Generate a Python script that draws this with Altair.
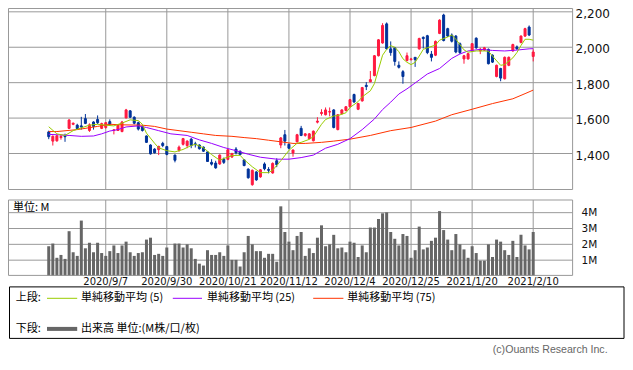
import altair as alt
import pandas as pd

# ---------------- data ----------------
idx = [i for i in range(120) if i != 30]  # 10/1 trading halt -> no candle
opens = [1522,1470,1472,1490,1500,1542,1565,1560,1556,1597,1530,1578,1592,1542,1547,1580,1530,1530,1524,1601,
         1641,1605,1574,1553,1499,1448,1425,1422,1457,1439,
         1391,1418,1452,1445,1481,1455,1448,1436,1409,1350,1346,1341,1367,1367,1380,1425,1412,1364,1312,1224,
         1296,1268,1341,1310,1290,1359,1448,1506,1452,1403,1466,1542,1502,1484,1472,1577,1626,1619,1634,1646,
         1535,1625,1643,1664,1733,1650,1697,1785,1805,1840,1952,2024,2132,1991,1997,1898,1862,1925,1930,1943,
         1991,2056,2065,1961,1955,2078,2182,2105,2069,2063,2020,1934,1934,1979,2051,1979,1984,1988,1955,1835,
         1880,1822,1898,1979,2002,2027,2063,2114,1948]
highs = [1529,1502,1506,1505,1512,1595,1575,1568,1607,1623,1570,1582,1615,1574,1578,1593,1538,1565,1584,1652,
         1645,1610,1580,1560,1502,1452,1430,1444,1466,1443,
         1394,1445,1488,1475,1488,1466,1452,1440,1412,1368,1359,1395,1377,1425,1404,1436,1418,1368,1316,1310,
         1300,1312,1350,1323,1350,1373,1493,1533,1457,1422,1511,1556,1515,1515,1530,1605,1650,1660,1660,1650,
         1622,1650,1668,1708,1738,1686,1776,1803,1866,1956,2046,2136,2140,2033,2002,1920,1871,1970,1940,1943,
         2054,2061,2070,1979,2038,2158,2189,2110,2078,2069,2027,1957,1968,2024,2056,1997,2002,1993,1960,1902,
         1884,1948,1948,2020,2010,2067,2110,2123,1988]
lows = [1481,1445,1466,1478,1466,1538,1560,1536,1535,1566,1522,1535,1566,1538,1540,1560,1508,1527,1520,1598,
        1600,1565,1530,1524,1460,1394,1400,1391,1436,1390,
        1350,1409,1445,1430,1430,1434,1422,1409,1352,1332,1314,1336,1341,1362,1376,1395,1390,1328,1258,1218,
        1246,1263,1305,1288,1286,1323,1430,1445,1425,1382,1462,1498,1495,1480,1468,1570,1614,1615,1610,1542,
        1531,1620,1638,1660,1686,1645,1693,1758,1802,1836,1948,2020,1987,1952,1896,1880,1794,1920,1925,1889,
        1986,1993,1961,1920,1950,2074,2033,2058,2027,1966,1961,1907,1930,1975,1991,1961,1979,1903,1911,1830,
        1808,1818,1893,1975,1986,2022,2058,2063,1920]
closes = [1495,1497,1500,1496,1495,1589,1571,1541,1550,1570,1562,1553,1574,1569,1574,1566,1534,1560,1578,1646,
          1605,1571,1538,1530,1463,1398,1404,1440,1445,1395,
          1362,1436,1484,1470,1445,1450,1427,1413,1355,1340,1319,1391,1350,1421,1400,1404,1394,1332,1263,1305,
          1251,1308,1314,1305,1344,1337,1488,1470,1430,1420,1506,1502,1511,1511,1526,1583,1632,1646,1637,1547,
          1619,1646,1664,1704,1691,1682,1772,1778,1817,1952,2042,2123,1991,1970,1920,1887,1835,1952,1934,1930,
          2049,2049,1970,1943,2033,2153,2038,2063,2034,1973,1970,1952,1964,2020,1997,1988,1997,1907,1916,1898,
          1826,1943,1943,2015,1991,2063,2105,2069,1973]
volumes = [1.88,2.05,1.15,1.33,1.08,2.83,1.50,1.27,3.50,1.75,2.10,1.50,2.10,1.45,1.27,1.57,1.93,1.45,1.93,2.17,
           1.50,1.27,1.45,1.50,2.30,2.42,1.33,1.40,1.27,1.80,
           2.05,2.05,1.80,2.00,1.75,1.08,0.78,0.66,1.63,1.33,1.33,1.50,1.27,1.93,1.02,1.02,0.60,1.50,2.53,2.00,
           1.57,1.57,1.15,1.40,1.40,0.90,4.40,2.78,2.17,1.63,2.53,2.78,1.27,1.75,1.45,2.42,3.20,1.88,2.00,2.60,
           1.75,1.80,1.50,2.17,2.10,1.20,1.93,1.50,3.06,3.06,3.60,3.96,4.02,2.78,2.35,1.93,2.65,2.53,1.15,1.63,
           3.12,1.68,1.80,2.22,2.42,4.10,2.90,2.30,1.63,2.65,2.00,1.68,1.15,1.88,1.45,0.97,0.97,2.00,1.20,2.30,
           2.17,1.63,1.33,2.22,1.20,2.60,1.93,1.68,2.78]

ma5_idx = [0,2,4,6,8,10,12,14,16,18,20,22,23,24,26,27,29,31,33,35,36,38,40,42,43,45,47,48,50,52,54,55,57,59,61,62,
           64,65,67,68,70,71,73,74,76,77,79,80,81,82,83,84,85,86,87,88,89,90,91,92,93,95,96,98,99,100,102,103,105,
           107,108,109,111,112,114,115,116,117,118,119]
ma5_val = [1551,1511,1502,1529,1545,1560,1565,1560,1556,1572,1590,1586,1565,1515,1458,1432,1416,1409,1423,1445,1452,
           1432,1394,1362,1372,1388,1390,1365,1325,1292,1292,1306,1359,1418,1458,1463,1480,1495,1565,1592,1612,1614,
           1630,1660,1693,1720,1754,1795,1875,1955,1988,2009,2000,1975,1935,1915,1902,1915,1950,1988,1997,2012,2040,
           2058,2069,2045,1985,1972,1979,1979,1978,1950,1898,1902,1940,1970,2010,2045,2045,2040]
ma25_idx = [0,2,5,8,11,13,15,17,19,22,24,27,30,34,37,40,43,46,49,52,56,59,62,65,68,71,74,77,80,82,84,86,88,91,93,
            96,99,101,103,106,109,112,115,118,119]
ma25_val = [1508,1506,1502,1497,1499,1511,1527,1535,1550,1556,1547,1529,1511,1502,1477,1457,1434,1416,1396,1379,1368,
            1368,1377,1391,1430,1452,1484,1535,1595,1648,1690,1736,1765,1815,1849,1880,1937,1962,1979,1988,1982,
            1979,1984,1991,1992]
ma75_idx = [0,2,7,12,15,18,23,26,29,32,35,38,41,45,48,51,54,57,60,63,67,70,74,79,84,89,95,99,104,109,114,117,119]
ma75_val = [1524,1524,1535,1553,1565,1562,1560,1553,1538,1529,1520,1511,1502,1497,1490,1484,1475,1466,1457,1457,1463,
            1470,1481,1502,1529,1547,1583,1619,1650,1682,1709,1738,1758]

tick_idx = [14, 29, 44, 59, 74, 89, 104, 119]
tick_labels = ["2020/9/7", "2020/9/30", "2020/10/21", "2020/11/12", "2020/12/4",
               "2020/12/25", "2021/1/20", "2021/2/10"]
price_ticks = [1400, 1600, 1800, 2000, 2200]
vol_ticks = [1, 2, 3, 4]

# ---------------- layout / style ----------------
TW, TH = 617, 347
PW = 564.6            # panel width
P_TOP, P_BOT = 0.5, 181.5
V_TOP, V_BOT = 192.0, 267.4

UP, DOWN = "#ff1a40", "#003399"
GRID = "#999999"
JP = "Noto Sans CJK JP"

xs = alt.Scale(domain=[-8.78, 127.45], range=[0, PW], nice=False, zero=False)
ps = alt.Scale(domain=[1196.8, 2221.6], range=[181.5, 0], nice=False, zero=False)
vs = alt.Scale(domain=[0, 4.8], range=[268.0, 192.0], nice=False, zero=False)
cs = alt.Scale(domain=["up", "down"], range=[UP, DOWN])

price_axis = alt.Axis(orient="right", values=price_ticks, format=",d", grid=False, ticks=False,
                      domain=False, labelPadding=2.5, offset=PW - TW, labelFontSize=12,
                      labelFont="DejaVu Sans", labelColor="#111", title=None, labelOverlap=False,
                      labelOffset=1.5)
vol_axis = alt.Axis(orient="right", values=vol_ticks, labelExpr="datum.value + 'M'", grid=False,
                    ticks=False, domain=False, labelPadding=8.5, offset=PW - TW, labelFontSize=10.5,
                    labelFont="DejaVu Sans", labelColor="#111", title=None, labelOverlap=False)

candles = pd.DataFrame({"i": idx, "o": opens, "h": highs, "l": lows, "c": closes})
candles["dir"] = ["up" if c >= o else "down" for o, c in zip(opens, closes)]
vol_df = pd.DataFrame({"i": idx, "v": volumes})
ticks_df = pd.DataFrame({"i": tick_idx, "label": tick_labels})
pt_df = pd.DataFrame({"p": price_ticks})
vt_df = pd.DataFrame({"v": vol_ticks})
one = pd.DataFrame({"a": [0]})

X = lambda: alt.X("i:Q", scale=xs, axis=None)

# vertical grid lines
vgrid_p = alt.Chart(ticks_df).mark_rule(color=GRID, strokeWidth=1).encode(
    x=X(), y=alt.value(P_TOP), y2=alt.value(P_BOT))
vgrid_v = alt.Chart(ticks_df).mark_rule(color=GRID, strokeWidth=1).encode(
    x=X(), y=alt.value(V_TOP), y2=alt.value(V_BOT))

# price panel
hgrid_p = alt.Chart(pt_df).mark_rule(color=GRID, strokeWidth=1).encode(
    y=alt.Y("p:Q", scale=ps, axis=price_axis), x=alt.value(0), x2=alt.value(PW))
wicks = alt.Chart(candles).mark_rule(strokeWidth=1).encode(
    x=X(), y=alt.Y("l:Q", scale=ps, axis=price_axis), y2="h:Q",
    color=alt.Color("dir:N", scale=cs, legend=None))
bodies = alt.Chart(candles).mark_bar(size=2, strokeWidth=1).encode(
    x=X(), y=alt.Y("o:Q", scale=ps, axis=price_axis), y2="c:Q",
    color=alt.Color("dir:N", scale=cs, legend=None),
    stroke=alt.Stroke("dir:N", scale=cs, legend=None))


def ma_layer(ix, vals, col):
    d = pd.DataFrame({"i": ix, "m": vals})
    return alt.Chart(d).mark_line(color=col, strokeWidth=1).encode(
        x=X(), y=alt.Y("m:Q", scale=ps, axis=price_axis))


price = alt.layer(hgrid_p, wicks, bodies,
                  ma_layer(ma75_idx, ma75_val, "#ff3300"),
                  ma_layer(ma25_idx, ma25_val, "#9900ff"),
                  ma_layer(ma5_idx, ma5_val, "#99cc00"))

# volume panel
hgrid_v = alt.Chart(vt_df).mark_rule(color=GRID, strokeWidth=1).encode(
    y=alt.Y("v:Q", scale=vs, axis=vol_axis), x=alt.value(0), x2=alt.value(PW))
vbars = alt.Chart(vol_df).mark_bar(size=3, color="#666666").encode(
    x=X(), y=alt.Y("v:Q", scale=vs, axis=vol_axis))
volume = alt.layer(hgrid_v, vbars)


def frame(x1, x2, y1, y2, col):
    return alt.Chart(one).mark_rect(fillOpacity=0, stroke=col, strokeWidth=1).encode(
        x=alt.value(x1), x2=alt.value(x2), y=alt.value(y1), y2=alt.value(y2))


def label(txt, x, y, size=11, font=JP, color="#000", align="left"):
    return alt.Chart(one).mark_text(text=txt, font=font, fontSize=size, color=color,
                                    align=align, baseline="middle").encode(
        x=alt.value(x), y=alt.value(y))


def sample(x1, x2, y, col, w=1):
    return alt.Chart(one).mark_rule(color=col, strokeWidth=w).encode(
        x=alt.value(x1), x2=alt.value(x2), y=alt.value(y))


date_labels = alt.Chart(ticks_df).mark_text(font="DejaVu Sans", fontSize=10, color="#111",
                                            align="center", baseline="middle").encode(
    x=X(), y=alt.value(273.5), text="label:N")

R1, R2 = 290.3, 320.9
layers = [
    vgrid_p, vgrid_v, price, volume,
    frame(0.5, PW, P_TOP, P_BOT, GRID),
    frame(0.5, PW, V_TOP, V_BOT, GRID),
    date_labels,
    label("単位: M", 4.9, 199.6),
    frame(1.5, 616, 278.9, 330.4, "#000"),
    label("上段:", 7.8, R1),
    sample(39, 69.2, R1, "#99cc00"), label("単純移動平均 (5)", 73.1, R1),
    sample(164.8, 194, R1, "#9900ff"), label("単純移動平均 (25)", 198.9, R1),
    sample(305.2, 335.4, R1, "#ff3300"), label("単純移動平均 (75)", 339.3, R1),
    label("下段:", 7.8, R2),
    sample(39, 69.2, R2, "#666666", 4), label("出来高 単位:(M株/口/枚)", 73.1, R2),
    label("(c)Ouants Research Inc.", 599.6, 342.3, size=10.6, font="Liberation Sans",
          color="#666", align="right"),
]

chart = alt.layer(*layers).resolve_scale(y="independent").properties(
    width=TW, height=TH, autosize=alt.AutoSizeParams(type="none"), padding=0
).configure_view(stroke=None)

chart.save("out.html", embed_options={"renderer": "svg", "actions": False})
